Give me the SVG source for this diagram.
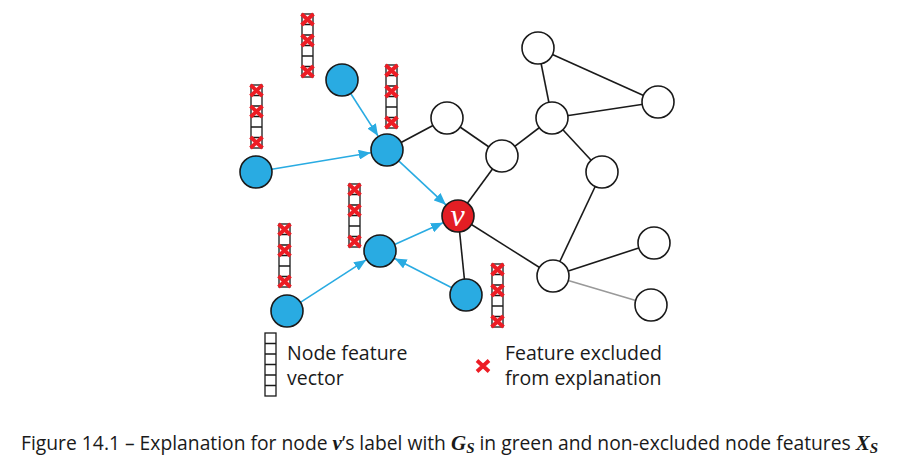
<svg xmlns="http://www.w3.org/2000/svg" xmlns:xlink="http://www.w3.org/1999/xlink" width="909" height="466" viewBox="0 0 909 466">
<style>
.edge{stroke:#1a1a1a;stroke-width:1.6;fill:none}
.edge-gray{stroke:#999;stroke-width:1.6;fill:none}
.arrow{stroke:#29abe2;stroke-width:1.6;fill:none;marker-end:url(#ah)}
.blue{fill:#29abe2;stroke:#1a1a1a;stroke-width:1.6}
.white{fill:#fff;stroke:#1a1a1a;stroke-width:1.6}
.red{fill:#e31e24;stroke:#1a1a1a;stroke-width:1.6}
.cell{fill:#fff;stroke:#1a1a1a;stroke-width:1.3}
.x{stroke:#ed1c24;stroke-width:3.8;stroke-linecap:butt}
.lbl{font-family:"Open Sans","Noto Sans",sans-serif;font-size:19.5px;fill:#1a1a1a}
.cap{font-family:"Open Sans","Noto Sans",sans-serif;font-size:19.3px;fill:#1a1a1a}
.math{font-family:"Liberation Serif","DejaVu Serif",serif;font-style:italic;font-weight:bold}
</style>
<defs>
<marker id="ah" viewBox="0 0 12 10" refX="12" refY="5" markerWidth="12" markerHeight="10" markerUnits="userSpaceOnUse" orient="auto">
<path d="M0,0 L12,5 L0,10 z" fill="#29abe2"/>
</marker>
<g id="vec">
<rect class="cell" x="0" y="0" width="11" height="63"/>
<path class="cell" d="M0,10.5H11M0,21H11M0,31.5H11M0,42H11M0,52.5H11"/>
</g>
<g id="xm">
<path class="x" d="M0.5,0.5L12.5,11.5M12.5,0.5L0.5,11.5"/>
</g>
<g id="fvec">
<use xlink:href="#vec"/>
<use xlink:href="#xm" x="-1" y="-0.5"/>
<use xlink:href="#xm" x="-1" y="20.5"/>
<use xlink:href="#xm" x="-1" y="51.5"/>
</g>
</defs>

<g id="connectors">
<line class="edge" x1="387" y1="150" x2="447" y2="118"/>
<line class="edge" x1="447" y1="118" x2="502" y2="156"/>
<line class="edge" x1="502" y1="156" x2="458" y2="216"/>
<line class="edge" x1="502" y1="156" x2="552" y2="118"/>
<line class="edge" x1="552" y1="118" x2="538" y2="48"/>
<line class="edge" x1="538" y1="48" x2="658" y2="102"/>
<line class="edge" x1="552" y1="118" x2="658" y2="102"/>
<line class="edge" x1="552" y1="118" x2="602" y2="172"/>
<line class="edge" x1="602" y1="172" x2="553" y2="276"/>
<line class="edge" x1="458" y1="216" x2="553" y2="276"/>
<line class="edge" x1="458" y1="216" x2="466" y2="295"/>
<line class="edge" x1="553" y1="276" x2="654" y2="243"/>
<line class="edge-gray" x1="553" y1="276" x2="651" y2="305"/>
<line class="arrow" x1="350.7" y1="93.5" x2="378.1" y2="136.1"/>
<line class="arrow" x1="271.8" y1="169.3" x2="370.7" y2="152.7"/>
<line class="arrow" x1="398.7" y1="160.9" x2="445.9" y2="204.8"/>
<line class="arrow" x1="300.4" y1="302.3" x2="366.1" y2="259.9"/>
<line class="arrow" x1="451.8" y1="287.7" x2="394.7" y2="258.5"/>
<line class="arrow" x1="394.6" y1="244.5" x2="443" y2="222.8"/>
</g>

<g id="node-b1"><circle class="blue" cx="342" cy="80" r="16"/></g>
<g id="node-b2"><circle class="blue" cx="387" cy="150" r="16"/></g>
<g id="node-b3"><circle class="blue" cx="256" cy="172" r="16"/></g>
<g id="node-b4"><circle class="blue" cx="380" cy="251" r="16"/></g>
<g id="node-b5"><circle class="blue" cx="287" cy="311" r="16"/></g>
<g id="node-b6"><circle class="blue" cx="466" cy="295" r="16"/></g>
<g id="node-v"><circle class="red" cx="458" cy="216" r="16"/>
<text x="457.5" y="226" text-anchor="middle" font-family="Liberation Serif, DejaVu Serif, serif" font-style="italic" font-size="32" fill="#fff">v</text></g>
<g id="node-w1"><circle class="white" cx="447" cy="118" r="16"/></g>
<g id="node-w2"><circle class="white" cx="502" cy="156" r="16"/></g>
<g id="node-w3"><circle class="white" cx="552" cy="118" r="16"/></g>
<g id="node-w4"><circle class="white" cx="538" cy="48" r="16"/></g>
<g id="node-w5"><circle class="white" cx="658" cy="102" r="16"/></g>
<g id="node-w6"><circle class="white" cx="602" cy="172" r="16"/></g>
<g id="node-w7"><circle class="white" cx="553" cy="276" r="16"/></g>
<g id="node-w8"><circle class="white" cx="654" cy="243" r="16"/></g>
<g id="node-w9"><circle class="white" cx="651" cy="305" r="16"/></g>

<g id="feature-vectors">
<use xlink:href="#fvec" x="302" y="14"/>
<use xlink:href="#fvec" x="251" y="85"/>
<use xlink:href="#fvec" x="386" y="65"/>
<use xlink:href="#fvec" x="349" y="184"/>
<use xlink:href="#fvec" x="279" y="224"/>
<use xlink:href="#fvec" x="492" y="264"/>
</g>

<g id="legend">
<use xlink:href="#vec" x="265" y="333"/>
<text class="lbl" x="287" y="360">Node feature</text>
<text class="lbl" x="287" y="385">vector</text>
<use xlink:href="#xm" x="476.5" y="360"/>
<text class="lbl" x="505" y="360">Feature excluded</text>
<text class="lbl" x="505" y="385">from explanation</text>
</g>

<g id="caption">
<text class="cap" x="21" y="450">Figure 14.1 – Explanation for node <tspan class="math" font-size="21">v</tspan>’s label with <tspan class="math" font-size="21">G</tspan><tspan class="math" font-size="15" dy="3">S</tspan><tspan dy="-3"> in green and non-excluded node features </tspan><tspan class="math" font-size="21">X</tspan><tspan class="math" font-size="15" dy="3">S</tspan></text>
</g>
</svg>
